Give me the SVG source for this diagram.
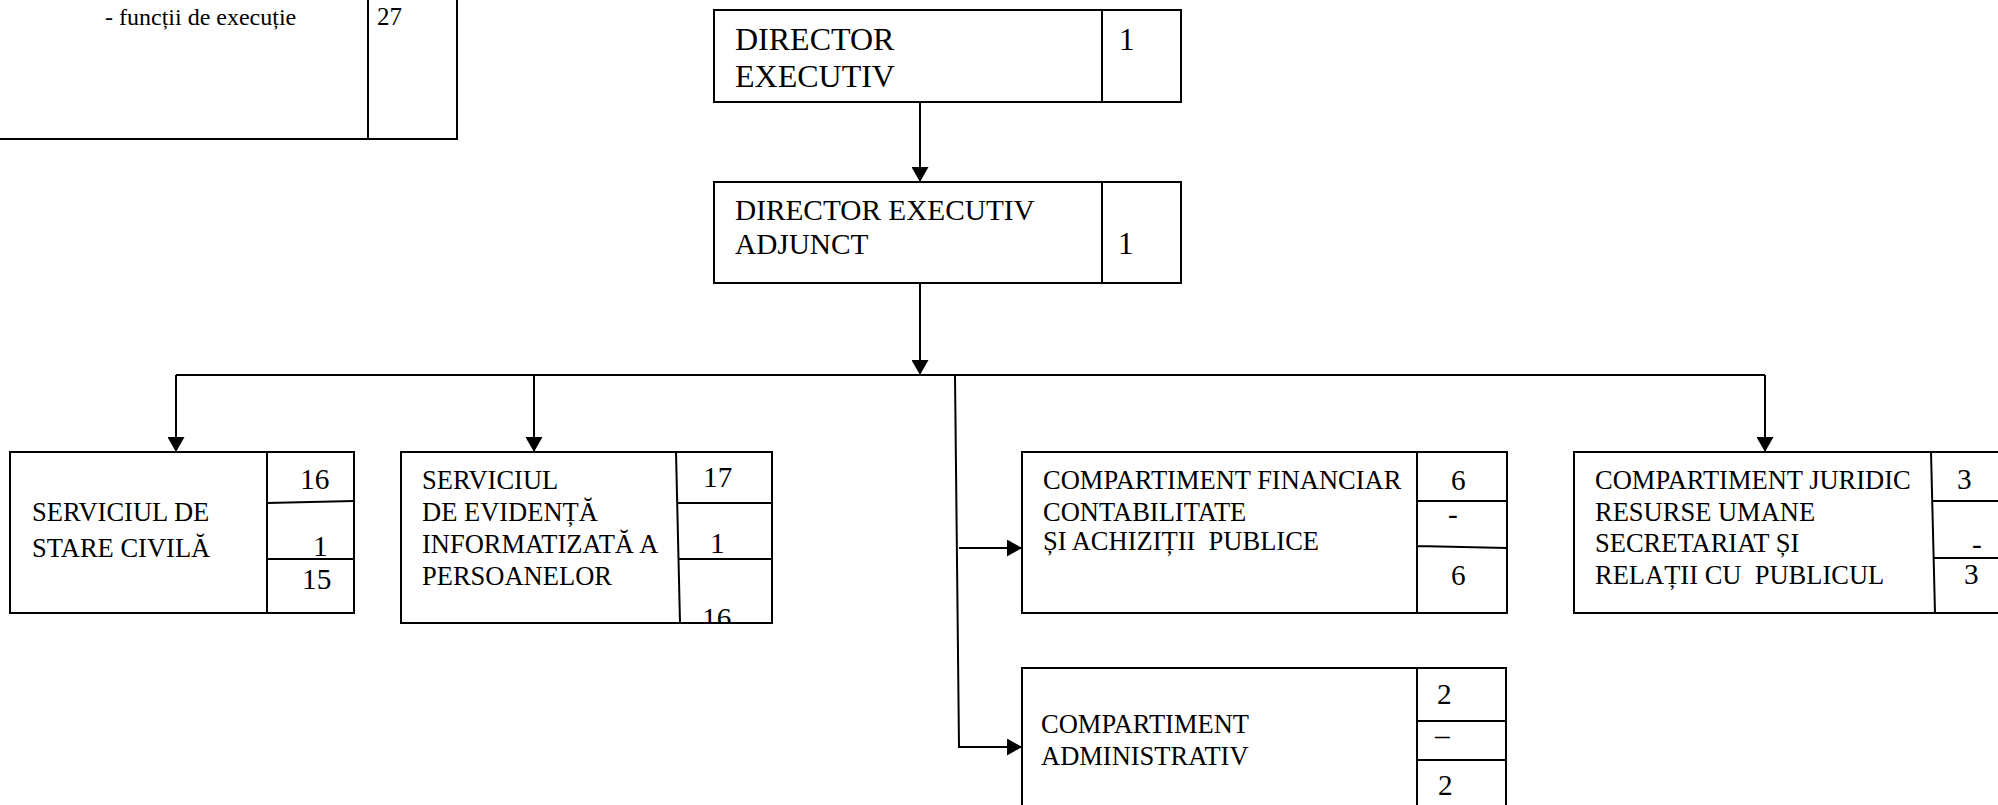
<svg xmlns="http://www.w3.org/2000/svg" width="1998" height="805" viewBox="0 0 1998 805">
<defs>
<marker id="ah" markerWidth="16" markerHeight="17" refX="15" refY="8.5" orient="auto" markerUnits="userSpaceOnUse"><path d="M0,0 L15,8.5 L0,17 z" fill="#000"/></marker>
<clipPath id="clipSeip"><rect x="680" y="560" width="91" height="62"/></clipPath>
</defs>
<style>
.b{fill:#fff;stroke:#000;stroke-width:2}
.l{fill:none;stroke:#000;stroke-width:2}
.c{fill:none;stroke:#000;stroke-width:2}
.t{font-family:"Liberation Serif","Times New Roman",serif;font-size:26.5px;fill:#000;white-space:pre}
.n{font-family:"Liberation Serif","Times New Roman",serif;font-size:29.3px;fill:#000}
.d1{font-size:32px}
.d2{font-size:29.3px}
.s{font-size:24px}
.n1{font-size:31px}
.n2{font-size:25px}
</style>
<rect width="1998" height="805" fill="#fff"/>
<g id="connectors">
<path class="c" d="M920,102 V182" marker-end="url(#ah)"/>
<path class="c" d="M920,283 V375" marker-end="url(#ah)"/>
<path class="c" d="M176,375 H1765"/>
<path class="c" d="M176,375 V452" marker-end="url(#ah)"/>
<path class="c" d="M534,375 V452" marker-end="url(#ah)"/>
<path class="c" d="M1765,375 V452" marker-end="url(#ah)"/>
<path class="c" d="M955,375 L959,747 H1022" marker-end="url(#ah)"/>
<path class="c" d="M959,548 H1022" marker-end="url(#ah)"/>
</g>
<g id="legend">
<rect class="b" x="-10" y="-10" width="467" height="149"/>
<path class="l" d="M368,-10 V139"/>
<text class="t s" x="105" y="25">- funcții de execuție</text>
<text class="n n2" x="377" y="25">27</text>
</g>
<g id="director-executiv">
<rect class="b" x="714" y="10" width="467" height="92"/>
<path class="l" d="M1102,10 V102"/>
<text class="t d1" x="735" y="50">DIRECTOR</text>
<text class="t d1" x="735" y="87">EXECUTIV</text>
<text class="n n1" x="1119" y="50">1</text>
</g>
<g id="director-executiv-adjunct">
<rect class="b" x="714" y="182" width="467" height="101"/>
<path class="l" d="M1102,182 V283"/>
<text class="t d2" x="735" y="220">DIRECTOR EXECUTIV</text>
<text class="t d2" x="735" y="254">ADJUNCT</text>
<text class="n n1" x="1118" y="254">1</text>
</g>
<g id="serviciul-stare-civila">
<rect class="b" x="10" y="452" width="344" height="161"/>
<path class="l" d="M267,452 V613 M267,503 L354,501 M267,559 H354"/>
<text class="t" x="32" y="521">SERVICIUL DE</text>
<text class="t" x="32" y="557">STARE CIVILĂ</text>
<text class="n" x="300" y="489">16</text>
<text class="n" x="313" y="556">1</text>
<text class="n" x="302" y="589">15</text>
</g>
<g id="serviciul-evidenta">
<rect class="b" x="401" y="452" width="371" height="171"/>
<path class="l" d="M676,452 L680,623 M678,503 H772 M679,559 H772"/>
<text class="t" x="422" y="489">SERVICIUL</text>
<text class="t" x="422" y="521">DE EVIDENȚĂ</text>
<text class="t" x="422" y="553">INFORMATIZATĂ A</text>
<text class="t" x="422" y="585">PERSOANELOR</text>
<text class="n" x="703" y="487">17</text>
<text class="n" x="710" y="553">1</text>
<text class="n" x="702" y="628" clip-path="url(#clipSeip)">16</text>
</g>
<g id="compartiment-financiar">
<rect class="b" x="1022" y="452" width="485" height="161"/>
<path class="l" d="M1417,452 V613 M1417,501 H1507 M1417,546 L1507,548"/>
<text class="t" x="1043" y="489">COMPARTIMENT FINANCIAR</text>
<text class="t" x="1043" y="521">CONTABILITATE</text>
<text class="t" x="1043" y="550" xml:space="preserve">ȘI ACHIZIȚII  PUBLICE</text>
<text class="n" x="1451" y="490">6</text>
<text class="n" x="1448" y="524">-</text>
<text class="n" x="1451" y="585">6</text>
</g>
<g id="compartiment-juridic">
<rect class="b" x="1574" y="452" width="440" height="161"/>
<path class="l" d="M1931,452 L1935,613 M1932,501 H2014 M1933,558 H2014"/>
<text class="t" x="1595" y="489">COMPARTIMENT JURIDIC</text>
<text class="t" x="1595" y="521">RESURSE UMANE</text>
<text class="t" x="1595" y="552">SECRETARIAT ȘI</text>
<text class="t" x="1595" y="584" xml:space="preserve">RELAȚII CU  PUBLICUL</text>
<text class="n" x="1957" y="489">3</text>
<text class="n" x="1972" y="554">-</text>
<text class="n" x="1964" y="584">3</text>
</g>
<g id="compartiment-administrativ">
<rect class="b" x="1022" y="668" width="484" height="150"/>
<path class="l" d="M1417,668 V818 M1417,721 H1506 M1417,760 H1506"/>
<text class="t" x="1041" y="733">COMPARTIMENT</text>
<text class="t" x="1041" y="765">ADMINISTRATIV</text>
<text class="n" x="1437" y="704">2</text>
<text class="n" x="1435" y="745">–</text>
<text class="n" x="1438" y="795">2</text>
</g>
</svg>
